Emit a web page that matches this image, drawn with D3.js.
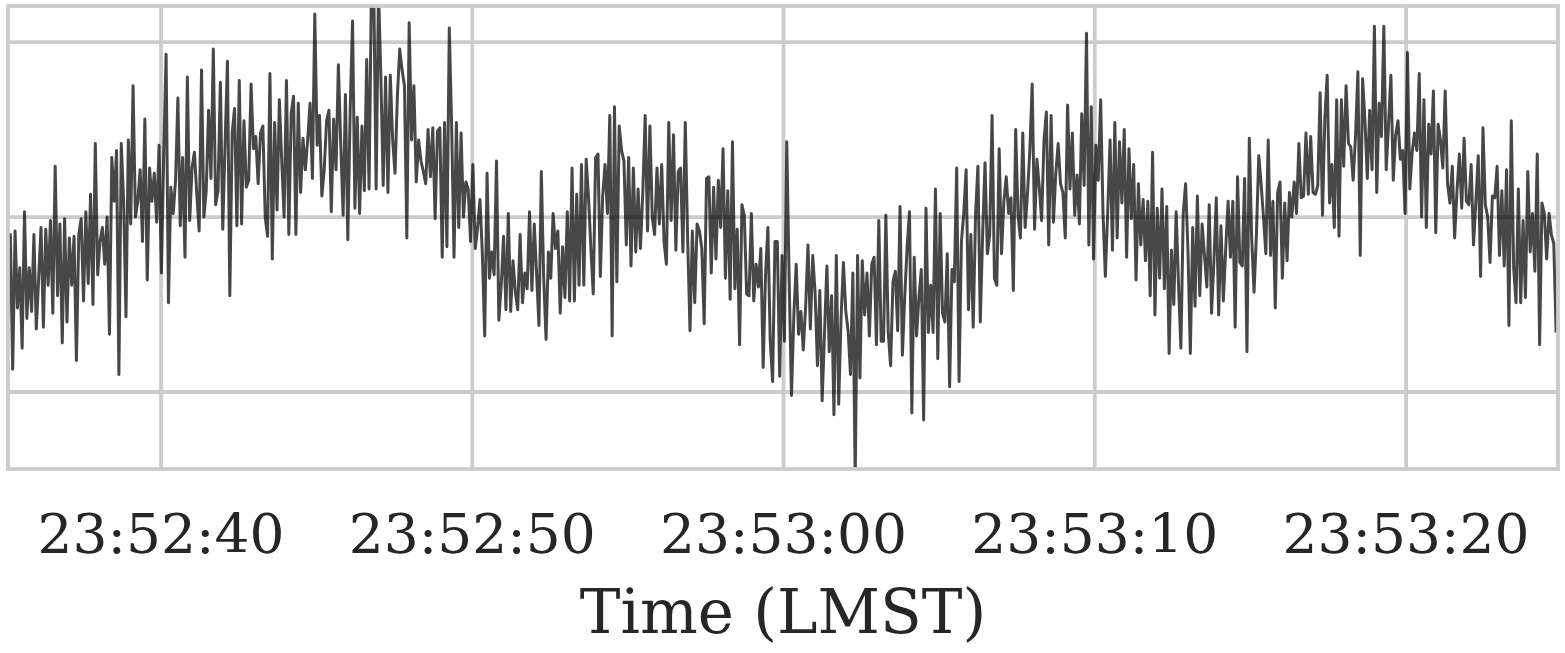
<html>
<head>
<style>
body { margin: 0; background: #fff; }
.grid line { stroke: #cccccc; stroke-width: 3.8; }
.frame { fill: none; stroke: #cccccc; stroke-width: 3.8; }
.tick-label { font-family: "DejaVu Serif", serif; font-size: 55px; fill: #262626; }
.axis-label { font-family: "DejaVu Serif", serif; font-size: 61px; fill: #262626; }
</style>
</head>
<script src="https://d3js.org/d3.v7.min.js"></script>
<body>
<div id="chart"></div>
<script>

// samples, evenly spaced between sampleStart and sampleEnd
var signal = [
  -58,-10,-87,-8,-52,-29,-75,3,-58,-29,-54,
  -10,-64,-35,-6,-63,-7,-39,-2,-55,29,
  -45,-4,-72,-1,-60,-12,-39,-11,-82,-10,
  -1,-48,3,-38,13,-50,42,-33,-14,-6,
  -27,0,-67,34,9,38,-90,42,9,-57,
  44,-4,75,0,9,27,-14,56,-36,28,
  9,25,-3,41,-32,36,93,-49,17,2,
  21,68,-5,34,-23,80,-2,28,37,13,
  -8,84,0,15,61,22,96,7,15,77,
  -7,42,89,-45,48,62,-5,78,-4,
  // ~23:52:43
  55,17,21,76,39,46,19,48,52,0,
  -11,82,-24,54,4,67,32,0,78,-10,
  59,69,-10,65,14,45,27,44,65,22,
  116,41,58,12,27,55,61,3,56,27,
  87,42,1,70,-13,61,112,5,57,2,
  52,15,90,16,130,130,16,130,80,18,
  80,14,81,44,25,69,96,84,75,-12,
  111,44,75,20,44,32,26,19,50,23,
  51,-1,49,51,-23,54,-17,108,52,-23,
  54,-6,48,0,20,16,-14,30,-18,-6,
  10,-21,-68,25,-35,-20,-33,32,-59,-39,
  -11,-53,
  // ~23:52:52
  2,-54,-25,-43,-53,-10,-49,-32,-41,3,
  -42,-4,-33,-62,26,-35,-70,-20,-35,2,
  -18,-8,-55,-17,-46,3,-48,28,-48,13,
  -39,30,-39,33,11,-18,-44,34,36,-34,
  12,30,2,58,-68,63,-37,52,38,32,
  -16,34,-28,28,-20,16,-18,14,58,-8,
  52,0,-10,28,-4,30,-14,-27,54,-2,
  47,-19,26,28,-20,54,-13,-65,-8,-49,
  -4,-8,-18,-61,22,23,-32,17,-24,21,
  -6,39,-35,15,-47,43,-41,-7,-73,7,
  1,-44,-45,2,-48,-27,-40,-18,-86,-33,
  -6,-71,-94,-14,
  // ~23:53:00
  -14,-91,-22,-71,43,-35,-102,-56,-27,-67,
  -54,-76,-51,-16,-64,-22,-43,-85,-42,-105,
  -66,-28,-77,-45,-113,-22,-107,-58,-26,-54,
  -65,-90,-32,-150,-22,-92,-25,-56,-32,-68,
  -27,-23,-73,-2,-71,-71,1,-66,-85,-37,
  -31,-65,6,-79,-45,-17,3,-112,-23,-68,
  -46,-30,-116,5,-66,-39,-66,16,-81,2,
  -55,-60,-21,-97,-30,-37,28,-94,-14,2,
  27,-53,-10,-63,2,29,-60,-10,31,-21,
  -10,58,-35,-39,39,-21,9,23,2,11,
  -42,50,1,-12,48,-6,13,38,76,-7,
  33,17,-2,44,60,
  // ~23:53:09
  -16,58,-3,25,42,19,14,-12,64,16,
  48,1,24,-4,59,18,105,-16,63,-24,
  41,21,67,2,-34,3,44,-19,54,-12,
  43,8,50,-23,39,-1,30,-36,19,-16,
  10,-25,9,-45,37,-56,5,-35,16,-41,
  6,-78,-19,-50,3,-39,-75,2,19,-19,
  -78,-6,-51,12,-45,-4,-22,-40,7,-55,
  -25,11,-56,-5,-48,-18,9,-23,9,-63,
  23,-26,-28,22,-77,45,-12,-43,-10,35,
  19,0,-21,44,-22,9,-52,14,20,-35,
  8,-25,14,0,20,2,42,
  // ~23:53:17
  11,12,48,13,46,14,13,18,71,1,
  56,81,8,30,-6,67,-11,67,29,75,
  42,40,21,46,83,-22,79,55,22,61,
  27,109,14,65,46,109,27,53,81,21,
  47,55,33,38,2,94,16,37,48,38,
  82,0,67,-6,53,36,72,-9,53,44,
  28,72,19,8,29,-12,15,36,5,45,
  9,7,30,-16,9,35,-34,51,7,0,
  -26,12,11,29,-22,15,-28,27,-62,55,
  -29,-49,16,-49,-2,-46,26,-20,2,-31,
  36,-73,8,2,-24,2,-10,-15,-66
];

var sampleStart = Date.UTC(2019, 0, 1, 23, 52, 35, 84);
var sampleEnd = Date.UTC(2019, 0, 1, 23, 53, 24, 820);
var viewStart = Date.UTC(2019, 0, 1, 23, 52, 35, 84);
var viewEnd = Date.UTC(2019, 0, 1, 23, 53, 24, 880);
var tickTimes = ["23:52:40", "23:52:50", "23:53:00", "23:53:10", "23:53:20"];
var yGrid = [-100, 0, 100];
var yLimits = [-144, 120.6];

var margin = {top: 6, right: 7, bottom: 184, left: 8},
    width = 1565 - margin.left - margin.right,
    height = 653 - margin.top - margin.bottom;

var parseTick = function(s) {
  var p = s.split(":");
  return new Date(Date.UTC(2019, 0, 1, +p[0], +p[1], +p[2]));
};

var data = signal.map(function(v, i) {
  return {t: new Date(sampleStart + i * (sampleEnd - sampleStart) / (signal.length - 1)), v: v};
});

var x = d3.scaleUtc().domain([new Date(viewStart), new Date(viewEnd)]).range([0, width]);
var y = d3.scaleLinear().domain(yLimits).range([height, 0]);

var svg = d3.select("#chart").append("svg")
    .attr("width", 1565)
    .attr("height", 653)
  .append("g")
    .attr("transform", "translate(" + margin.left + "," + margin.top + ")");

svg.append("clipPath").attr("id", "clip")
  .append("rect").attr("width", width).attr("height", height);

// grid
var grid = svg.append("g").attr("class", "grid");
grid.selectAll(".vx").data(tickTimes).enter().append("line")
    .attr("x1", function(d) { return x(parseTick(d)); })
    .attr("x2", function(d) { return x(parseTick(d)); })
    .attr("y1", 0).attr("y2", height);
grid.selectAll(".hy").data(yGrid).enter().append("line")
    .attr("x1", 0).attr("x2", width)
    .attr("y1", function(d) { return y(d); })
    .attr("y2", function(d) { return y(d); });

// signal
var line = d3.line()
    .x(function(d) { return x(d.t); })
    .y(function(d) { return y(d.v); });

svg.append("path")
    .datum(data)
    .attr("clip-path", "url(#clip)")
    .attr("fill", "none")
    .attr("stroke", "#000")
    .attr("stroke-opacity", 0.72)
    .attr("stroke-width", 3)
    .attr("stroke-linejoin", "round")
    .attr("d", line);

svg.append("rect").attr("class", "frame")
    .attr("width", width).attr("height", height);

// tick labels
svg.selectAll(".tick-label").data(tickTimes).enter().append("text")
    .attr("class", "tick-label")
    .attr("x", function(d) { return x(parseTick(d)); })
    .attr("y", 553 - margin.top)
    .attr("text-anchor", "middle")
    .text(function(d) { return d; });

svg.append("text")
    .attr("class", "axis-label")
    .attr("x", width / 2)
    .attr("y", 633 - margin.top)
    .attr("text-anchor", "middle")
    .text("Time (LMST)");

</script>
</body>
</html>
